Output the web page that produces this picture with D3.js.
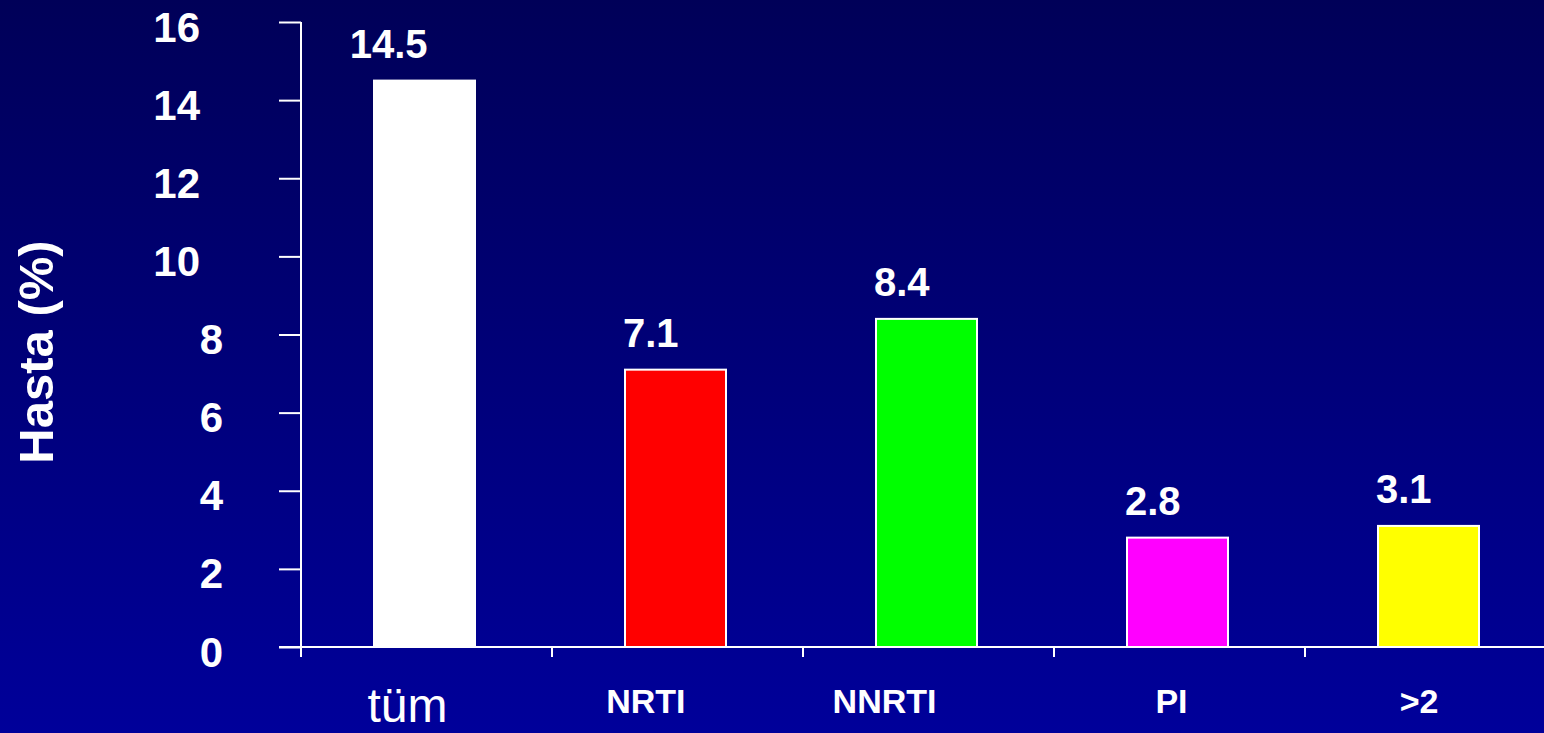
<!DOCTYPE html>
<html>
<head>
<meta charset="utf-8">
<script src="https://cdn.jsdelivr.net/npm/d3@7"></script>
<style>
  html, body { margin: 0; padding: 0; background: #000070; }
  svg { display: block; }
  text { font-family: "Liberation Sans", Arial, sans-serif; fill: #ffffff; }
</style>
</head>
<body>
<script>
// Hasta oranı (%) by resistance class
const categories = ["tüm", "NRTI", "NNRTI", "PI", ">2"];
const values = [14.5, 7.1, 8.4, 2.8, 3.1];
const barColors = ["#ffffff", "#ff0000", "#00ff00", "#ff00ff", "#ffff00"];
const yTicks = [0, 2, 4, 6, 8, 10, 12, 14, 16];
const yTitle = "Hasta (%)";

const W = 1544, H = 733;
const svg = d3.select("body").append("svg").attr("width", W).attr("height", H);

// vertical background gradient
const defs = svg.append("defs");
const grad = defs.append("linearGradient").attr("id", "bg").attr("x1", 0).attr("y1", 0).attr("x2", 0).attr("y2", 1);
grad.append("stop").attr("offset", "0%").attr("stop-color", "#000058");
grad.append("stop").attr("offset", "100%").attr("stop-color", "#00009a");
svg.append("rect").attr("width", W).attr("height", H).attr("fill", "url(#bg)");

const x0 = 301, step = 251;
const x = d3.scaleBand().domain(categories).range([x0, x0 + step * categories.length]).padding(0);
const y = d3.scaleLinear().domain([0, 16]).range([647, 22]);
const barW = 101;

// bars
svg.append("g").selectAll("rect").data(categories).join("rect")
  .attr("x", d => x(d) + x.bandwidth() / 2 - 2 - barW / 2)
  .attr("y", (d, i) => y(values[i]))
  .attr("width", barW)
  .attr("height", (d, i) => y(0) - y(values[i]))
  .attr("fill", (d, i) => barColors[i])
  .attr("stroke", "#ffffff")
  .attr("stroke-width", 2);

// y axis
const yAxis = svg.append("g").attr("transform", `translate(${x0},0)`)
  .call(d3.axisLeft(y).tickValues(yTicks).tickSize(22).tickPadding(0));
yAxis.select(".domain").remove();
yAxis.append("line").attr("x1", 0).attr("x2", 0).attr("y1", y(16)).attr("y2", y(0) + 10)
  .attr("stroke", "#fff").attr("stroke-width", 2);
yAxis.selectAll(".tick line").attr("stroke", "#fff").attr("stroke-width", 2);
yAxis.selectAll(".tick text")
  .attr("fill", "#fff")
  .style("font-size", "42px").style("font-weight", "bold")
  .attr("dy", null).attr("y", 19)
  .attr("text-anchor", "end")
  .attr("x", d => String(d).length > 1 ? -101 : -78);

// x axis
const xAxis = svg.append("g").attr("transform", `translate(0,${y(0)})`);
xAxis.append("line").attr("x1", 279).attr("x2", W).attr("y1", 0).attr("y2", 0)
  .attr("stroke", "#fff").attr("stroke-width", 2);
xAxis.selectAll("line.tk").data(categories).join("line").attr("class", "tk")
  .attr("x1", d => x(d)).attr("x2", d => x(d)).attr("y1", 0).attr("y2", 10)
  .attr("stroke", "#fff").attr("stroke-width", 2);
xAxis.selectAll("text").data(categories).join("text")
  .attr("text-anchor", "end")
  .attr("x", (d, i) => x(d) + x.bandwidth() / 2 + (i === 0 ? 21 : 8))
  .attr("y", (d, i) => i === 0 ? 75 : 66)
  .style("font-size", (d, i) => i === 0 ? "48px" : "34px")
  .style("font-weight", (d, i) => i === 0 ? "normal" : "bold")
  .text(d => d);

// value labels
svg.append("g").selectAll("text").data(categories).join("text")
  .attr("text-anchor", "end")
  .attr("x", d => x(d) + x.bandwidth() / 2 + 1)
  .attr("y", (d, i) => y(values[i]) - 23)
  .style("font-size", "40px").style("font-weight", "bold")
  .text((d, i) => values[i].toFixed(1));

// y title
svg.append("text")
  .attr("transform", "translate(53,352) rotate(-90)")
  .attr("text-anchor", "middle")
  .style("font-size", "49px").style("font-weight", "bold")
  .text(yTitle);
</script>
</body>
</html>
